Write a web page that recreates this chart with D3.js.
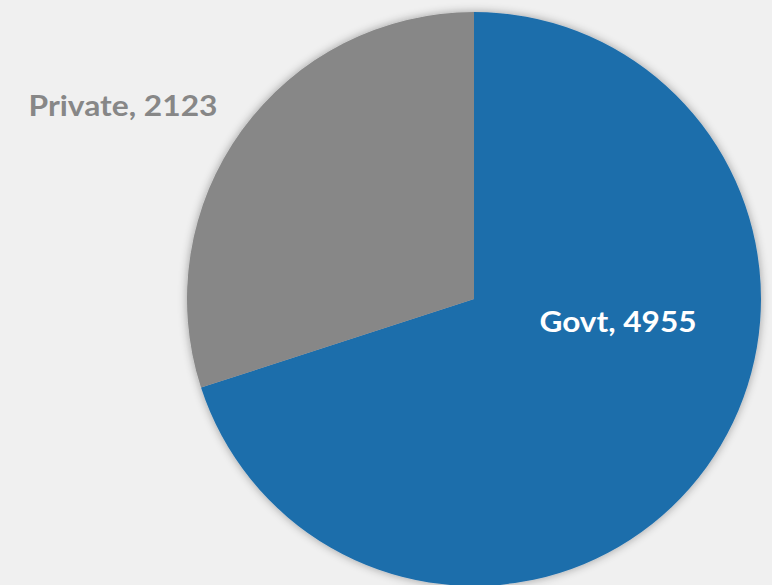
<!DOCTYPE html>
<html>
<head>
<meta charset="utf-8">
<script src="https://cdn.jsdelivr.net/npm/d3@7"></script>
<style>
  html, body { margin: 0; padding: 0; background: #f0f0f0; }
  text { font-family: Lato, "Open Sans", sans-serif; font-weight: 700; }
</style>
</head>
<body>
<script>
// chart data
const categories = ["Govt", "Private"];
const values = [4955, 2123];
const colors = ["#1f6eab", "#878787"];
const labelColors = ["#ffffff", "#878787"];

const width = 772;
const height = 585;
const cx = 474, cy = 299, radius = 287;

// label placement (centre x, baseline y) relative to the pie centre
const labelPos = [[144, 33], [-351, -183]];
const labelWidth = [157, 189];

const svg = d3.select('body')
  .append('svg')
  .attr('width', width)
  .attr('height', height)
  .style('display', 'block');

const defs = svg.append('defs');
const filt = defs.append('filter')
  .attr('id', 'shadow')
  .attr('x', '-20%').attr('y', '-20%')
  .attr('width', '140%').attr('height', '140%');
filt.append('feGaussianBlur').attr('in', 'SourceAlpha').attr('stdDeviation', 5).attr('result', 'blur');
filt.append('feComponentTransfer').attr('in', 'blur').attr('result', 'soft')
  .append('feFuncA').attr('type', 'linear').attr('slope', 0.35);
const merge = filt.append('feMerge');
merge.append('feMergeNode').attr('in', 'soft');
merge.append('feMergeNode').attr('in', 'SourceGraphic');

const data = categories.map((c, i) => ({ name: c, value: values[i], i: i }));

const pie = d3.pie().sort(null).value((d) => d.value);
const arc = d3.arc().innerRadius(0).outerRadius(radius);

const g = svg.append('g')
  .attr('transform', `translate(${cx},${cy})`);

g.append('g')
  .attr('filter', 'url(#shadow)')
  .selectAll('path')
  .data(pie(data))
  .enter().append('path')
  .attr('d', arc)
  .attr('fill', (d) => colors[d.data.i]);

g.selectAll('text.label')
  .data(pie(data))
  .enter().append('text')
  .attr('class', 'label')
  .attr('x', (d) => labelPos[d.data.i][0])
  .attr('y', (d) => labelPos[d.data.i][1])
  .attr('text-anchor', 'middle')
  .attr('font-size', 29)
  .attr('textLength', (d) => labelWidth[d.data.i])
  .attr('lengthAdjust', 'spacingAndGlyphs')
  .attr('fill', (d) => labelColors[d.data.i])
  .text((d) => `${d.data.name}, ${d.data.value}`);
</script>
</body>
</html>
